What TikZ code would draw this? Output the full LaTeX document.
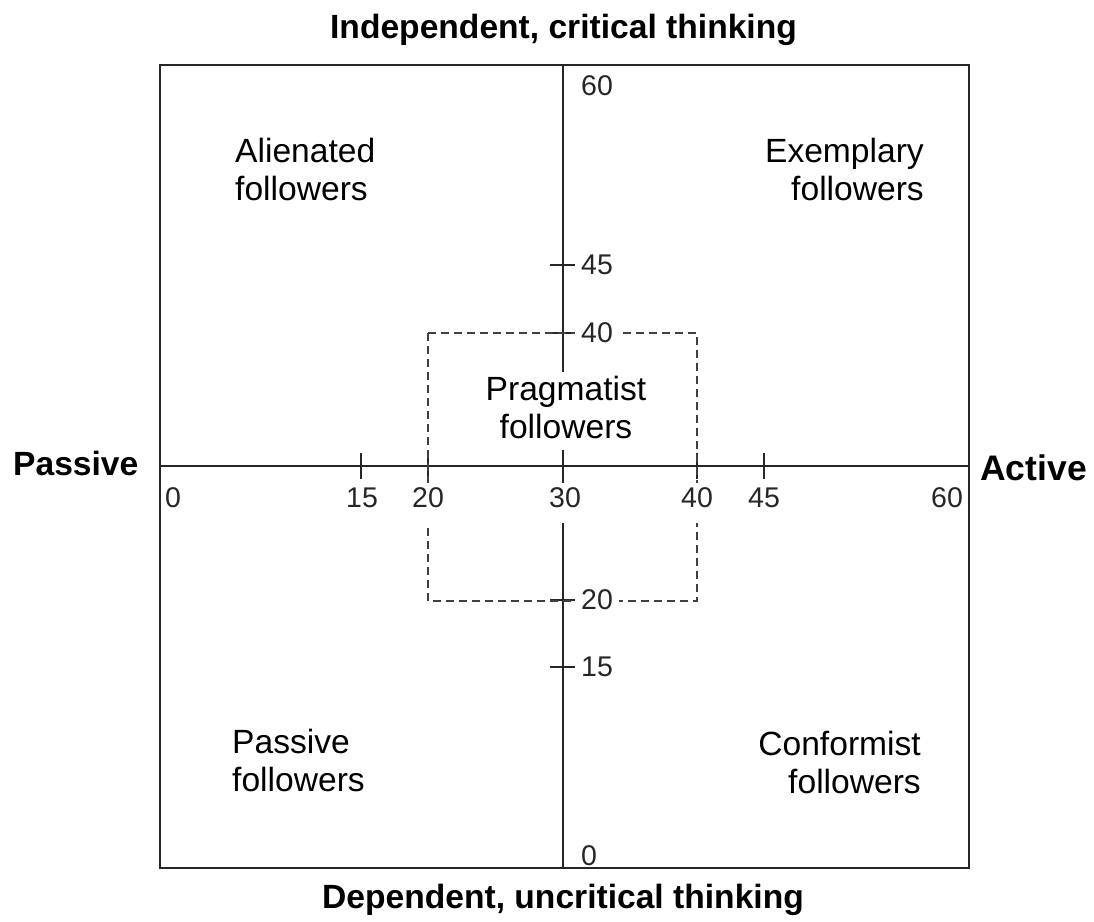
\documentclass[tikz,border=0pt]{standalone}
\usepackage{fontspec}
\setmainfont{Liberation Sans}
\begin{document}
\begin{tikzpicture}[x=1pt,y=-1pt,
  frame/.style={line width=1.8pt, black!85},
  axisline/.style={line width=1.6pt, black!85},
  tickline/.style={line width=1.4pt, black!85},
  zone/.style={line width=1.3pt, black!75, dash pattern=on 8pt off 5pt},
  heading/.style={font=\fontsize{33.6}{37.5}\selectfont\bfseries, inner sep=0pt},
  group/.style={font=\fontsize{33.6}{37.5}\selectfont, inner sep=0pt},
  xnum/.style={font=\fontsize{28.5}{30}\selectfont, text=black!85, fill=white, anchor=north,
               inner xsep=3pt, inner ysep=4pt, text height=20pt, text depth=12pt},
  ynum/.style={font=\fontsize{28.5}{30}\selectfont, text=black!85, fill=white, anchor=west,
               inner xsep=6pt, inner ysep=3pt},
]
\useasboundingbox (0,0) rectangle (1094,921);

% frame corners and axis ends
\coordinate (nw) at (160,65);
\coordinate (se) at (969,868);
\coordinate (L) at (160,466);
\coordinate (R) at (969,466);
\coordinate (T) at (563,65);
\coordinate (B) at (563,868);

% axes
\draw[axisline] (L) -- (R);
\draw[axisline] (T) -- (B);

% tick marks
\foreach \x in {361,428,697,764}
  \draw[tickline] (\x,453) -- (\x,479);
\foreach \y in {265,333,600,667}
  \draw[tickline] (550,\y) -- (576,\y);

% pragmatist zone
\coordinate (z1) at (428,333);
\coordinate (z2) at (697,601);
\draw[zone] (z1) rectangle (z2);

% scale numbers on the horizontal axis
\node[xnum] (x0)  at (173,483) {0};
\node[xnum] (x15) at (362,483) {15};
\node[xnum] (x20) at (428,483) {20};
\node[xnum] (x30) at (565,483) {30};
\node[xnum] (x40) at (697,483) {40};
\node[xnum] (x45) at (764,483) {45};
\node[xnum] (x60) at (947,483) {60};

% scale numbers on the vertical axis
\node[ynum] (y60) at (575,86)  {60};
\node[ynum] (y45) at (575,265) {45};
\node[ynum] (y40) at (575,333) {40};
\node[ynum] (y20) at (575,600) {20};
\node[ynum] (y15) at (575,667) {15};
\node[ynum] (y0)  at (575,856) {0};

% follower types
\node[group, align=left,  anchor=north west] (alien) at (235,138) {Alienated\\followers};
\node[group, align=right, anchor=north east] (exemp) at (924,138) {Exemplary\\followers};
\node[group, align=left,  anchor=north west] (passf) at (232,729) {Passive\\followers};
\node[group, align=right, anchor=north east] (confm) at (921,731) {Conformist\\followers};
\node[group, align=center, anchor=north, fill=white, inner xsep=4pt, inner ysep=4pt]
  (prag) at (566,372) {Pragmatist\\followers\rule[-8pt]{0pt}{1pt}};

% axis titles
\node[heading, anchor=base] (indep) at (563.5,38) {Independent, critical thinking};
\node[heading, anchor=base] (depen) at (563,908) {Dependent, uncritical thinking};
\node[heading, anchor=west] (passive) at (13,463) {Passive};
\node[heading, anchor=west, font=\fontsize{35.5}{37.5}\selectfont\bfseries] (active) at (980,468) {Active};

% outer frame
\draw[frame] (nw) rectangle (se);
\end{tikzpicture}
\end{document}
